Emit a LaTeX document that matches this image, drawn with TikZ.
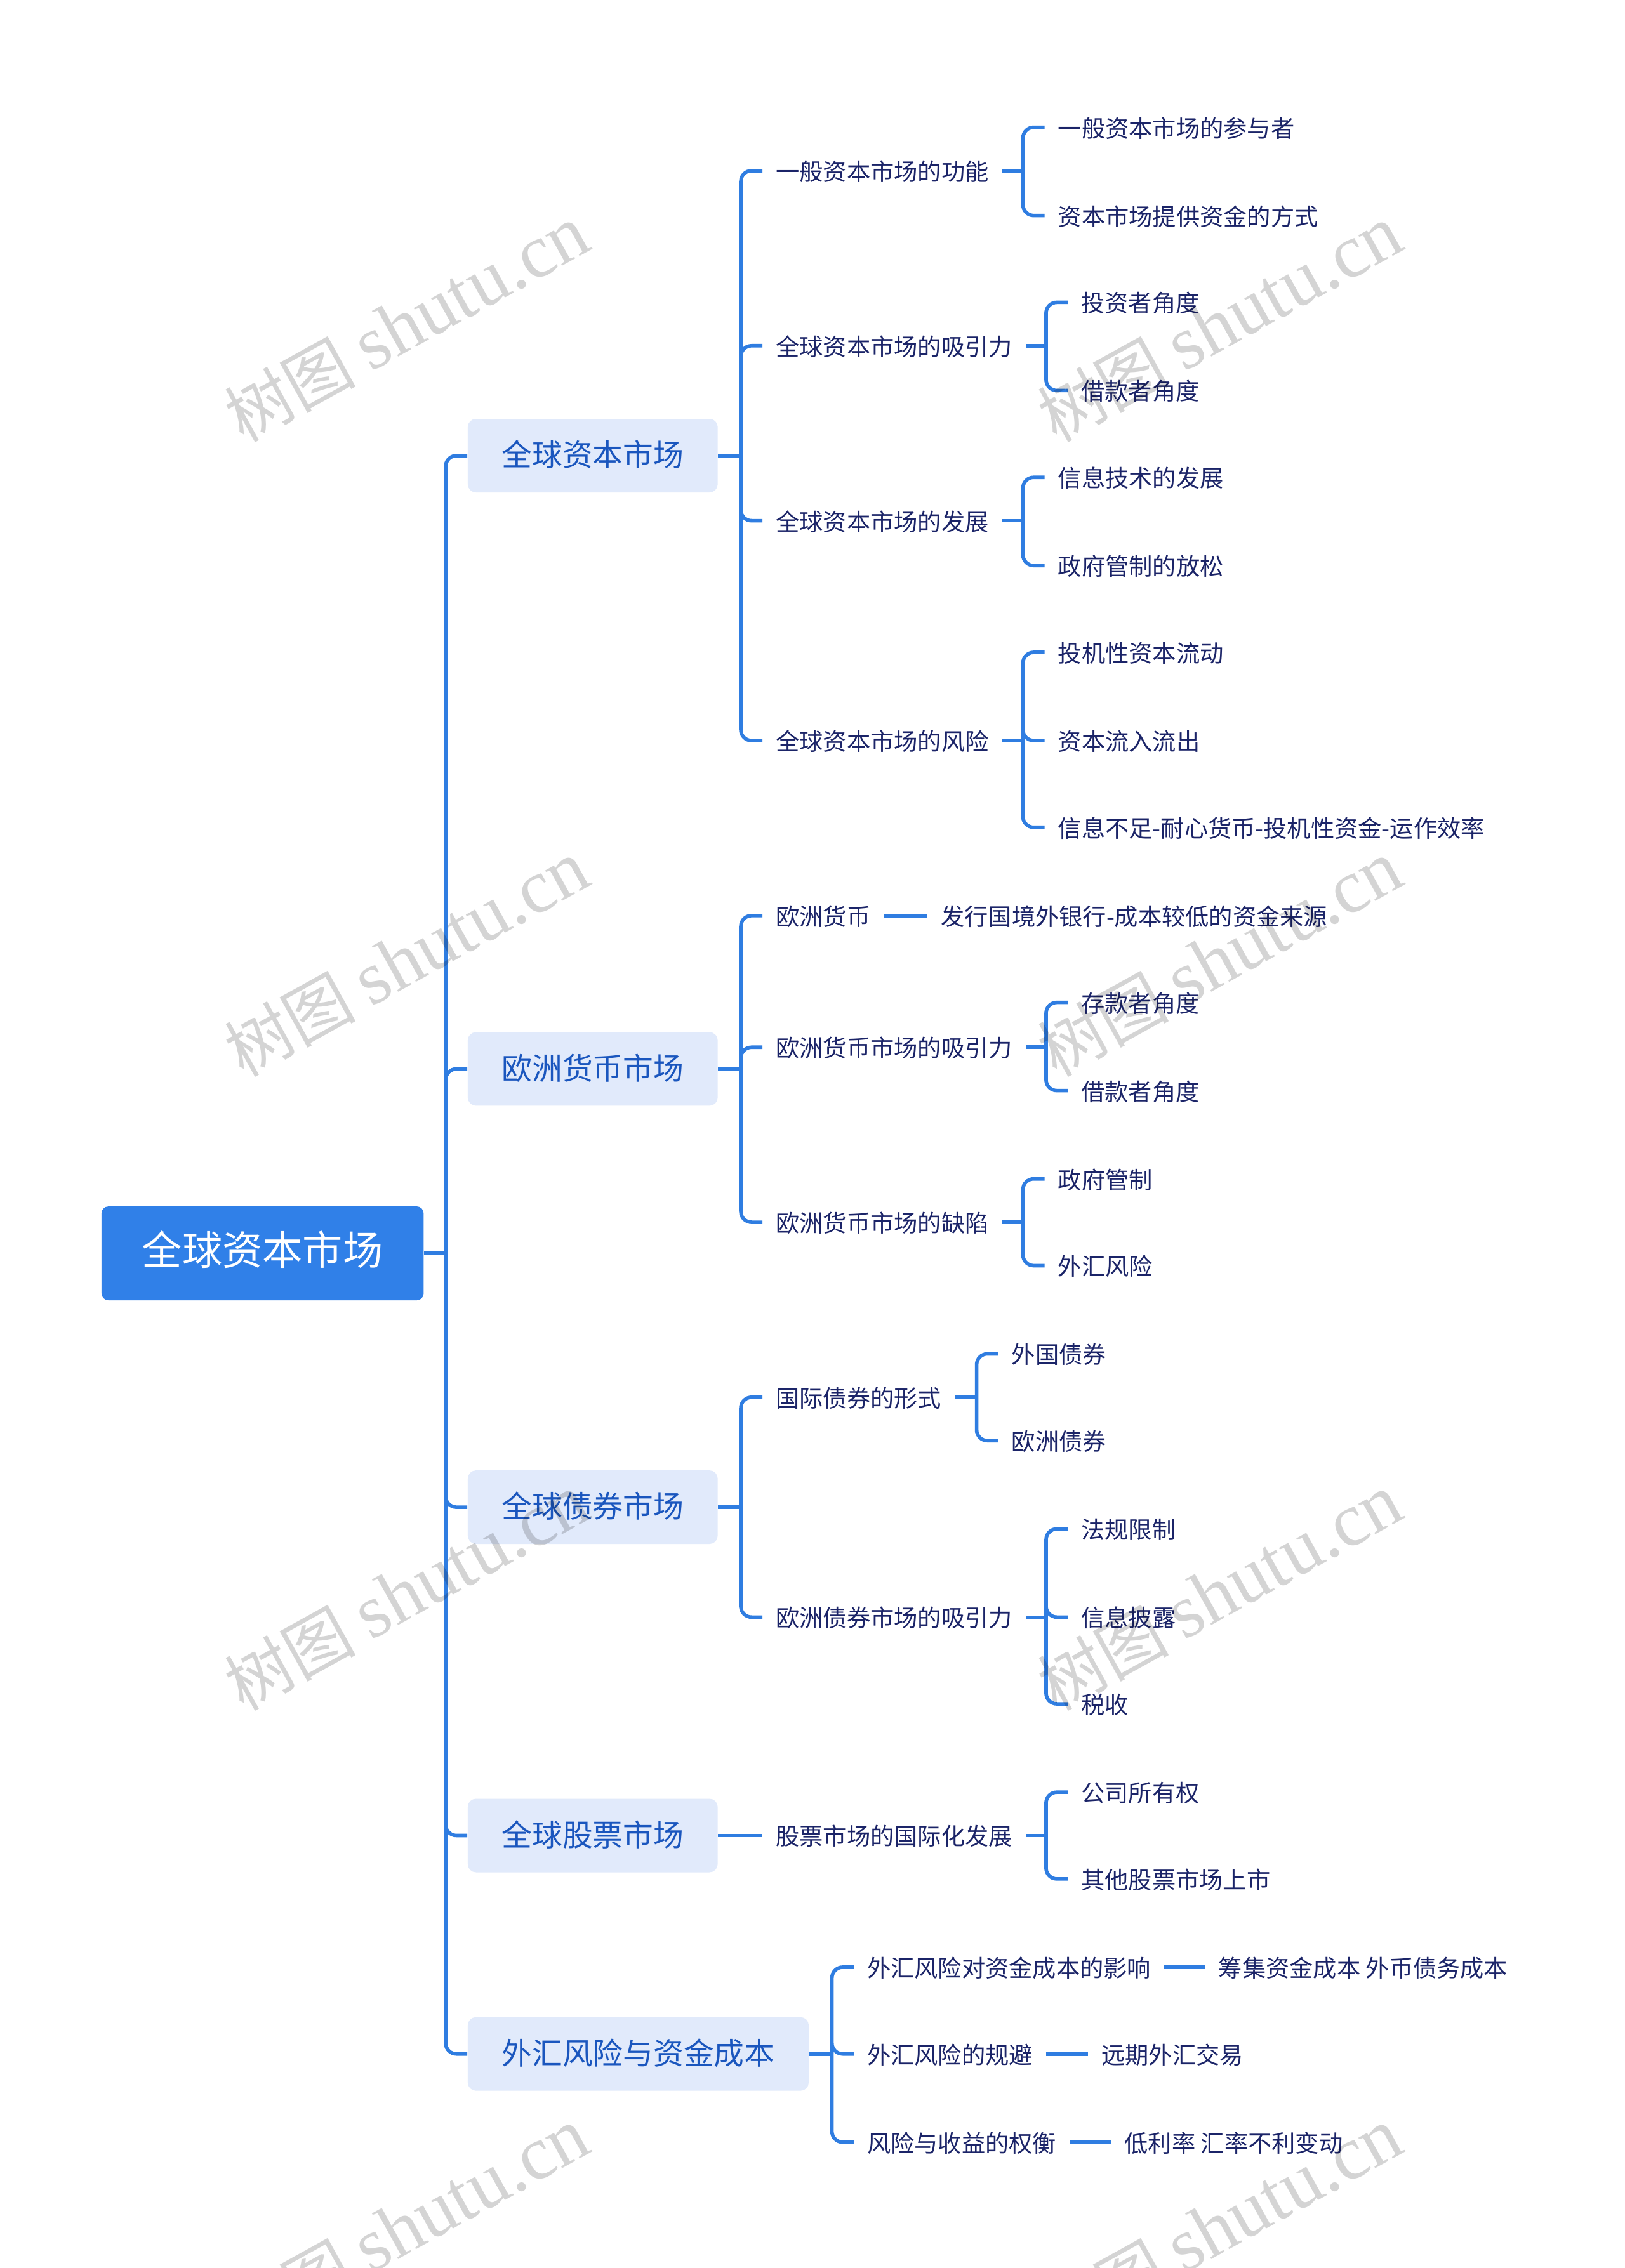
\documentclass[tikz,border=0pt]{standalone}
\usepackage{fontspec}
\setmainfont{Noto Sans CJK SC}
\newfontfamily\wmserif{Liberation Serif}
\usetikzlibrary{calc}
\definecolor{linkblue}{RGB}{47,125,225}
\definecolor{rootblue}{RGB}{48,128,232}
\definecolor{branchfill}{RGB}{225,234,251}
\definecolor{branchtext}{RGB}{26,86,190}
\definecolor{leaftext}{RGB}{27,36,104}
\newcommand{\wmlatin}[1]{{\wmserif\fontsize{34}{34}\selectfont #1}}

\begin{document}
\begin{tikzpicture}[
        x=0.022796cm, y=-0.022796cm,
        rootnode/.style={rectangle, rounded corners=0.11cm, fill=rootblue, text=white,
            font=\fontsize{18}{20}\selectfont, minimum height=1.48cm, inner xsep=0.64cm,
            text height=1.03em, text depth=0em},
        branchnode/.style={rectangle, rounded corners=0.13cm, fill=branchfill, text=branchtext,
            font=\fontsize{13.6}{15}\selectfont, minimum height=1.16cm, inner xsep=0.535cm,
            text height=0.97em, text depth=0.02em, anchor=west},
        leafnode/.style={anchor=west, inner xsep=0.205cm, inner ysep=0pt, text=leaftext,
            font=\fontsize{10.6}{12}\selectfont, text height=0.94em, text depth=0.06em},
        link/.style={draw=linkblue, line width=1.6pt, rounded corners=0.17cm},
        wmark/.style={rotate=29, text=black, opacity=0.17, inner sep=0pt,
            font=\fontsize{29.5}{30}\selectfont},
    ]
        \useasboundingbox (0,0) rectangle (1123,1568);
        \fill[white] (0,0) rectangle (1123,1568);

        % Root
        \node[rootnode] (root) at (181.5,866.5) {全球资本市场};

        % Main branches
        \node[branchnode] (cap) at (323,315) {全球资本市场};
        \node[branchnode] (euro) at (323,739) {欧洲货币市场};
        \node[branchnode] (bond) at (323,1042) {全球债券市场};
        \node[branchnode] (stock) at (323,1269) {全球股票市场};
        \node[branchnode] (fx) at (323,1420) {外汇风险与资金成本};

        % Topics
        \node[leafnode] (capfun) at (527,118) {一般资本市场的功能};
        \node[leafnode] (capatt) at (527,239) {全球资本市场的吸引力};
        \node[leafnode] (capdev) at (527,360) {全球资本市场的发展};
        \node[leafnode] (caprisk) at (527,512) {全球资本市场的风险};
        \node[leafnode] (eurocur) at (527,633) {欧洲货币};
        \node[leafnode] (euroatt) at (527,724) {欧洲货币市场的吸引力};
        \node[leafnode] (eurodef) at (527,845) {欧洲货币市场的缺陷};
        \node[leafnode] (bondform) at (527,966) {国际债券的形式};
        \node[leafnode] (bondatt) at (527,1118) {欧洲债券市场的吸引力};
        \node[leafnode] (stockint) at (527,1269) {股票市场的国际化发展};
        \node[leafnode] (fxcost) at (590,1360) {外汇风险对资金成本的影响};
        \node[leafnode] (fxhedge) at (590,1420) {外汇风险的规避};
        \node[leafnode] (fxtrade) at (590,1481) {风险与收益的权衡};

        % Details
        \node[leafnode] (capfun1) at (722,88) {一般资本市场的参与者};
        \node[leafnode] (capfun2) at (722,149) {资本市场提供资金的方式};
        \node[leafnode] (capatt1) at (738,209) {投资者角度};
        \node[leafnode] (capatt2) at (738,270) {借款者角度};
        \node[leafnode] (capdev1) at (722,330) {信息技术的发展};
        \node[leafnode] (capdev2) at (722,391) {政府管制的放松};
        \node[leafnode] (caprisk1) at (722,451) {投机性资本流动};
        \node[leafnode] (caprisk2) at (722,512) {资本流入流出};
        \node[leafnode] (caprisk3) at (722,572) {信息不足-耐心货币-投机性资金-运作效率};
        \node[leafnode] (eurocur1) at (641,633) {发行国境外银行-成本较低的资金来源};
        \node[leafnode] (euroatt1) at (738,693) {存款者角度};
        \node[leafnode] (euroatt2) at (738,754) {借款者角度};
        \node[leafnode] (eurodef1) at (722,815) {政府管制};
        \node[leafnode] (eurodef2) at (722,875) {外汇风险};
        \node[leafnode] (bondform1) at (690,936) {外国债券};
        \node[leafnode] (bondform2) at (690,996) {欧洲债券};
        \node[leafnode] (bondatt1) at (738,1057) {法规限制};
        \node[leafnode] (bondatt2) at (738,1118) {信息披露};
        \node[leafnode] (bondatt3) at (738,1178) {税收};
        \node[leafnode] (stockint1) at (738,1239) {公司所有权};
        \node[leafnode] (stockint2) at (738,1299) {其他股票市场上市};
        \node[leafnode] (fxcost1) at (833,1360) {筹集资金成本 外币债务成本};
        \node[leafnode] (fxhedge1) at (752,1420) {远期外汇交易};
        \node[leafnode] (fxtrade1) at (768,1481) {低利率 汇率不利变动};

        % Junctions
        \coordinate (jroot) at (308,866.5);
        \coordinate (jcap) at (512,315);
        \coordinate (jeuro) at (512,739);
        \coordinate (jbond) at (512,1042);
        \coordinate (jfx) at (575,1420);
        \coordinate (jcapfun) at (707,118);
        \coordinate (jcapatt) at (723,239);
        \coordinate (jcapdev) at (707,360);
        \coordinate (jcaprisk) at (707,512);
        \coordinate (jeuroatt) at (723,724);
        \coordinate (jeurodef) at (707,845);
        \coordinate (jbondform) at (675,966);
        \coordinate (jbondatt) at (723,1118);
        \coordinate (jstockint) at (723,1269);

        % Connectors
        \draw[link] (root.east) -- (jroot);
        \draw[link] (jroot) |- (cap.west) (jroot) |- (euro.west) (jroot) |- (bond.west)
            (jroot) |- (stock.west) (jroot) |- (fx.west);

        \draw[link] (cap.east) -- (jcap);
        \draw[link] (jcap) |- (capfun.west) (jcap) |- (capatt.west) (jcap) |- (capdev.west)
            (jcap) |- (caprisk.west);
        \draw[link] (euro.east) -- (jeuro);
        \draw[link] (jeuro) |- (eurocur.west) (jeuro) |- (euroatt.west) (jeuro) |- (eurodef.west);
        \draw[link] (bond.east) -- (jbond);
        \draw[link] (jbond) |- (bondform.west) (jbond) |- (bondatt.west);
        \draw[link] (stock.east) -- (stockint.west);
        \draw[link] (fx.east) -- (jfx);
        \draw[link] (jfx) |- (fxcost.west) (jfx) |- (fxhedge.west) (jfx) |- (fxtrade.west);

        \draw[link] (capfun.east) -- (jcapfun);
        \draw[link] (jcapfun) |- (capfun1.west) (jcapfun) |- (capfun2.west);
        \draw[link] (capatt.east) -- (jcapatt);
        \draw[link] (jcapatt) |- (capatt1.west) (jcapatt) |- (capatt2.west);
        \draw[link] (capdev.east) -- (jcapdev);
        \draw[link] (jcapdev) |- (capdev1.west) (jcapdev) |- (capdev2.west);
        \draw[link] (caprisk.east) -- (jcaprisk);
        \draw[link] (jcaprisk) |- (caprisk1.west) (jcaprisk) |- (caprisk2.west)
            (jcaprisk) |- (caprisk3.west);
        \draw[link] (eurocur.east) -- (eurocur1.west);
        \draw[link] (euroatt.east) -- (jeuroatt);
        \draw[link] (jeuroatt) |- (euroatt1.west) (jeuroatt) |- (euroatt2.west);
        \draw[link] (eurodef.east) -- (jeurodef);
        \draw[link] (jeurodef) |- (eurodef1.west) (jeurodef) |- (eurodef2.west);
        \draw[link] (bondform.east) -- (jbondform);
        \draw[link] (jbondform) |- (bondform1.west) (jbondform) |- (bondform2.west);
        \draw[link] (bondatt.east) -- (jbondatt);
        \draw[link] (jbondatt) |- (bondatt1.west) (jbondatt) |- (bondatt2.west)
            (jbondatt) |- (bondatt3.west);
        \draw[link] (stockint.east) -- (jstockint);
        \draw[link] (jstockint) |- (stockint1.west) (jstockint) |- (stockint2.west);
        \draw[link] (fxcost.east) -- (fxcost1.west);
        \draw[link] (fxhedge.east) -- (fxhedge1.west);
        \draw[link] (fxtrade.east) -- (fxtrade1.west);

        % Watermarks
        \clip (0,0) rectangle (1123,1568);
        \node[wmark] (wm1) at (281,224) {树图 \wmlatin{shutu.cn}};
        \node[wmark] (wm2) at (843,224) {树图 \wmlatin{shutu.cn}};
        \node[wmark] (wm3) at (281,663) {树图 \wmlatin{shutu.cn}};
        \node[wmark] (wm4) at (843,663) {树图 \wmlatin{shutu.cn}};
        \node[wmark] (wm5) at (281,1101) {树图 \wmlatin{shutu.cn}};
        \node[wmark] (wm6) at (843,1101) {树图 \wmlatin{shutu.cn}};
        \node[wmark] (wm7) at (281,1539) {树图 \wmlatin{shutu.cn}};
        \node[wmark] (wm8) at (843,1539) {树图 \wmlatin{shutu.cn}};
    \end{tikzpicture}
\end{document}
